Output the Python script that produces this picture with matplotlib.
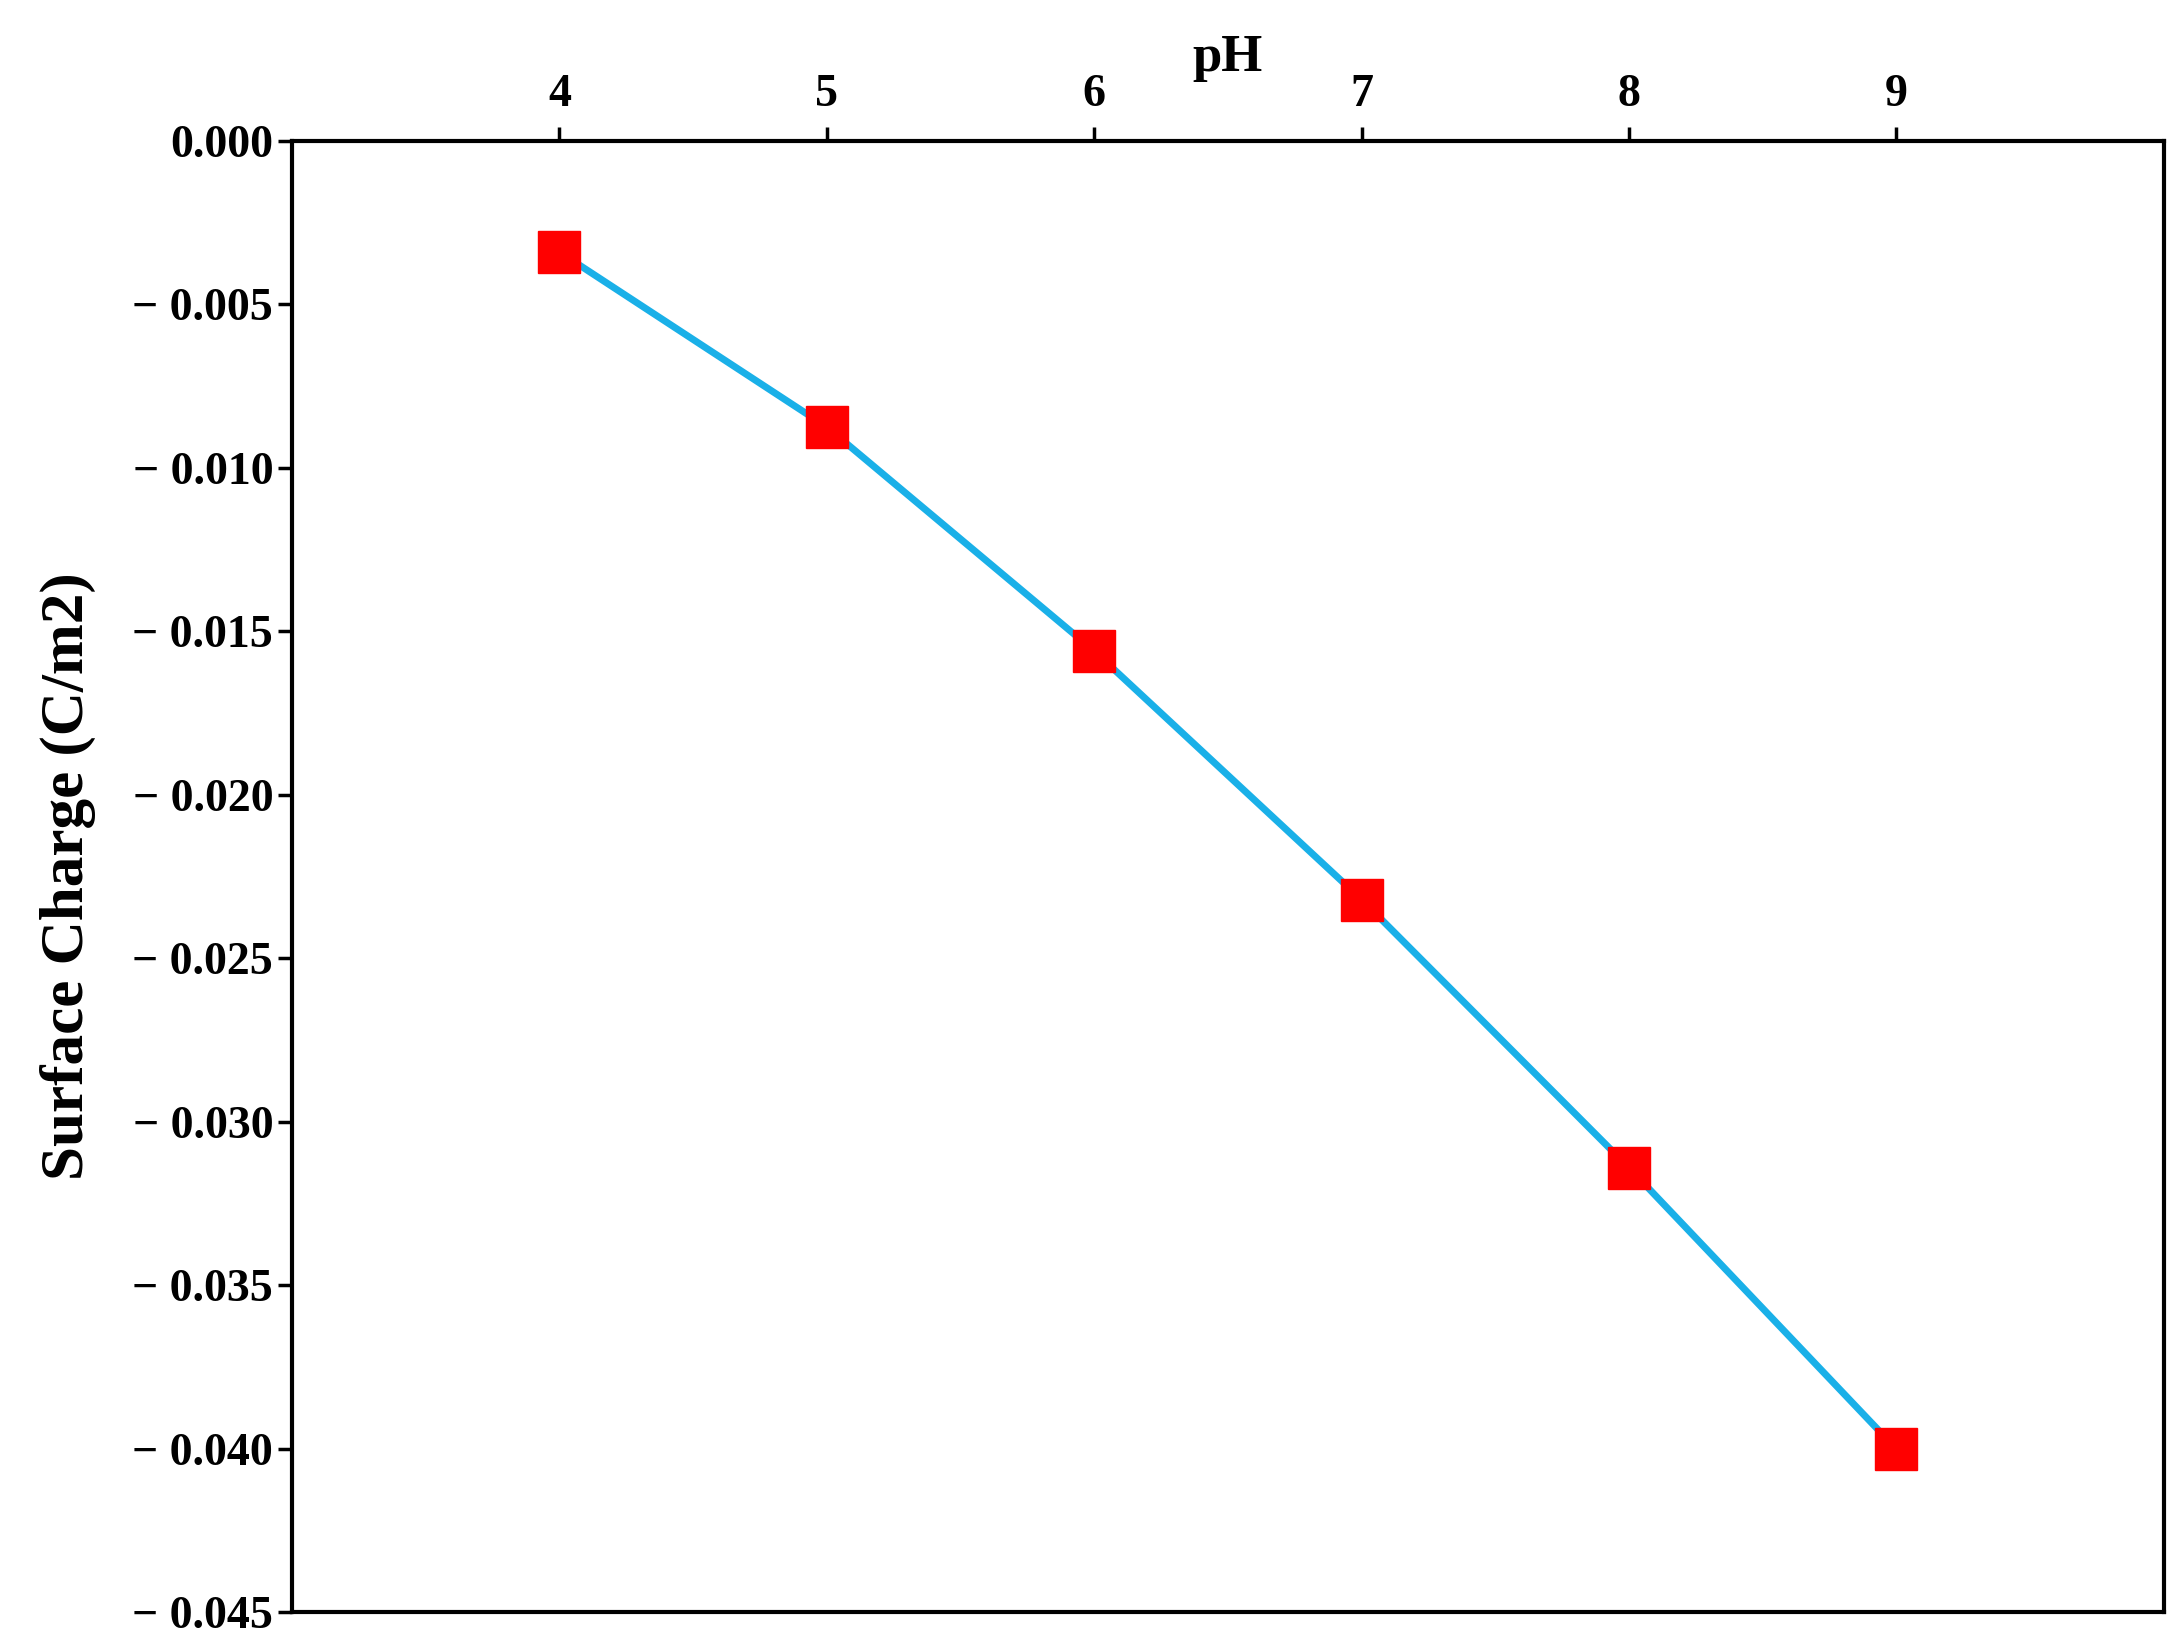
import matplotlib
matplotlib.use("Agg")
import matplotlib.pyplot as plt
from matplotlib.ticker import FuncFormatter

ph = [4, 5, 6, 7, 8, 9]
surface_charge = [-0.0034, -0.00875, -0.0156, -0.0232, -0.0314, -0.0400]
y_ticks = [0.0, -0.005, -0.010, -0.015, -0.020, -0.025, -0.030, -0.035, -0.040, -0.045]

plt.rcParams["font.family"] = "Liberation Serif"
plt.rcParams["font.weight"] = "bold"

fig = plt.figure(figsize=(21.79, 16.37), dpi=100)
ax = fig.add_axes([0.134, 0.015, 0.859, 0.899])

ax.plot(ph, surface_charge, color="#1AB0E8", linewidth=5, zorder=2)
ax.plot(ph, surface_charge, linestyle="none", marker="s", markersize=30,
        color="#FF0000", zorder=3)

ax.set_xlim(3, 10)
ax.set_ylim(-0.045, 0.0)
ax.xaxis.tick_top()
ax.xaxis.set_label_position("top")
ax.set_xticks(ph)
ax.set_yticks(y_ticks)


def fmt(v, pos):
    if abs(v) < 1e-12:
        return "0.000"
    return f"\u2212 {abs(v):.3f}"


ax.yaxis.set_major_formatter(FuncFormatter(fmt))
ax.tick_params(axis="both", labelsize=33, width=2.5, length=10, direction="out")
ax.tick_params(axis="x", pad=8)
for s in ax.spines.values():
    s.set_linewidth(3)

ax.set_xlabel("pH", fontsize=38, fontweight="bold", labelpad=2)
ax.set_ylabel("Surface Charge (C/m2)", fontsize=44, fontweight="bold", labelpad=26)

fig.savefig("out.png")
plt.close(fig)
